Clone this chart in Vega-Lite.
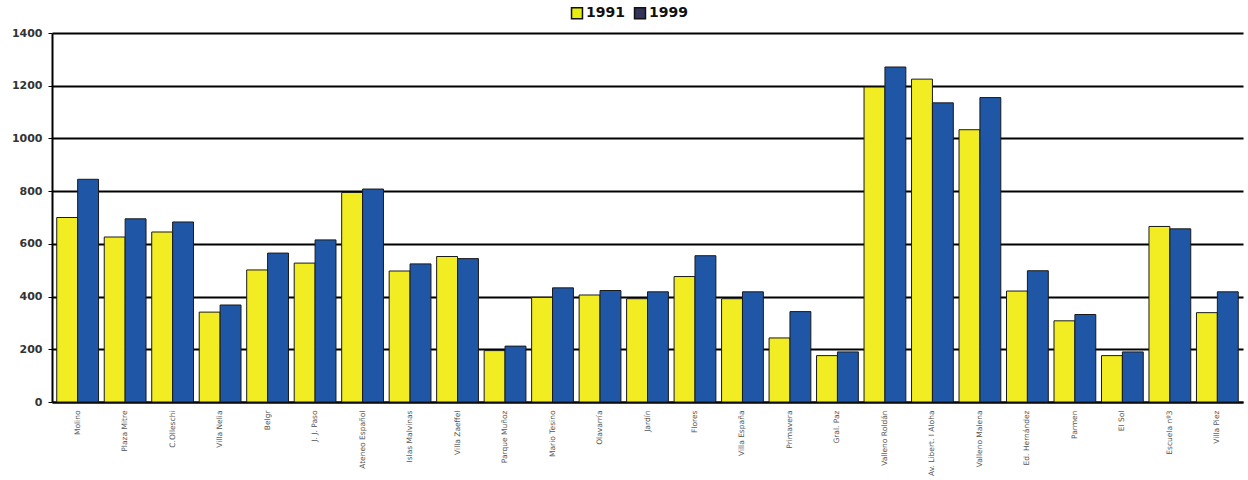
{
  "$schema": "https://vega.github.io/schema/vega-lite/v6.json",
  "width": 1191,
  "height": 369,
  "autosize": {"type": "none"},
  "padding": {"left": 52, "top": 33, "right": 5, "bottom": 78},
  "background": "white",
  "config": {
    "view": {"stroke": null},
    "font": "DejaVu Sans"
  },
  "data": {
    "values": [
      {"barrio": "Molino", "year": "1991", "value": 700},
      {"barrio": "Molino", "year": "1999", "value": 845},
      {"barrio": "Plaza Mitre", "year": "1991", "value": 626},
      {"barrio": "Plaza Mitre", "year": "1999", "value": 695},
      {"barrio": "C.Olleschi", "year": "1991", "value": 645},
      {"barrio": "C.Olleschi", "year": "1999", "value": 683},
      {"barrio": "Villa Nelia", "year": "1991", "value": 341},
      {"barrio": "Villa Nelia", "year": "1999", "value": 368},
      {"barrio": "Belgr", "year": "1991", "value": 501},
      {"barrio": "Belgr", "year": "1999", "value": 565},
      {"barrio": "J. J. Paso", "year": "1991", "value": 527},
      {"barrio": "J. J. Paso", "year": "1999", "value": 615},
      {"barrio": "Ateneo Español", "year": "1991", "value": 795},
      {"barrio": "Ateneo Español", "year": "1999", "value": 808},
      {"barrio": "Islas Malvinas", "year": "1991", "value": 497},
      {"barrio": "Islas Malvinas", "year": "1999", "value": 524},
      {"barrio": "Villa Zaeffel", "year": "1991", "value": 552},
      {"barrio": "Villa Zaeffel", "year": "1999", "value": 544},
      {"barrio": "Parque Muñoz", "year": "1991", "value": 195},
      {"barrio": "Parque Muñoz", "year": "1999", "value": 212},
      {"barrio": "Mario Tesino", "year": "1991", "value": 397},
      {"barrio": "Mario Tesino", "year": "1999", "value": 433},
      {"barrio": "Olavarría", "year": "1991", "value": 406},
      {"barrio": "Olavarría", "year": "1999", "value": 423},
      {"barrio": "Jardín", "year": "1991", "value": 392},
      {"barrio": "Jardín", "year": "1999", "value": 418},
      {"barrio": "Flores", "year": "1991", "value": 476},
      {"barrio": "Flores", "year": "1999", "value": 555},
      {"barrio": "Villa España", "year": "1991", "value": 392},
      {"barrio": "Villa España", "year": "1999", "value": 418},
      {"barrio": "Primavera", "year": "1991", "value": 243},
      {"barrio": "Primavera", "year": "1999", "value": 343},
      {"barrio": "Gral. Paz", "year": "1991", "value": 176},
      {"barrio": "Gral. Paz", "year": "1999", "value": 190},
      {"barrio": "Valleno Roldán", "year": "1991", "value": 1195},
      {"barrio": "Valleno Roldán", "year": "1999", "value": 1271},
      {"barrio": "Av. Libert. I Aloha", "year": "1991", "value": 1225},
      {"barrio": "Av. Libert. I Aloha", "year": "1999", "value": 1135},
      {"barrio": "Valleno Malena", "year": "1991", "value": 1033},
      {"barrio": "Valleno Malena", "year": "1999", "value": 1155},
      {"barrio": "Ed. Hernández", "year": "1991", "value": 421},
      {"barrio": "Ed. Hernández", "year": "1999", "value": 498},
      {"barrio": "Parmen", "year": "1991", "value": 308},
      {"barrio": "Parmen", "year": "1999", "value": 332},
      {"barrio": "El Sol", "year": "1991", "value": 176},
      {"barrio": "El Sol", "year": "1999", "value": 190},
      {"barrio": "Escuela nº3", "year": "1991", "value": 666},
      {"barrio": "Escuela nº3", "year": "1999", "value": 657},
      {"barrio": "Villa Piez", "year": "1991", "value": 339},
      {"barrio": "Villa Piez", "year": "1999", "value": 418}
    ]
  },
  "encoding": {
    "x": {
      "field": "barrio",
      "type": "nominal",
      "sort": null,
      "scale": {"paddingInner": 0.12, "paddingOuter": 0.1},
      "axis": {
        "title": null,
        "labelAngle": 270,
        "labelFontSize": 7.5,
        "labelColor": "#555555",
        "labelPadding": 8,
        "labelLimit": 70,
        "domainColor": "#000000",
        "domainWidth": 2,
        "ticks": false
      }
    },
    "xOffset": {"field": "year", "type": "nominal"},
    "y": {
      "field": "value",
      "type": "quantitative",
      "scale": {"domain": [0, 1400]},
      "axis": {
        "title": null,
        "values": [0, 200, 400, 600, 800, 1000, 1200, 1400],
        "format": "d",
        "labelFontSize": 11,
        "labelFontWeight": "bold",
        "labelColor": "#333333",
        "labelPadding": 6,
        "domainColor": "#000000",
        "domainWidth": 2,
        "tickColor": "#000000",
        "tickSize": 4,
        "grid": true,
        "gridColor": "#000000",
        "gridWidth": 2
      }
    }
  },
  "layer": [
    {
      "mark": {"type": "bar", "stroke": "#1a1a1a", "strokeWidth": 1},
      "encoding": {
        "fill": {
          "condition": {"test": "datum.year === '1999'", "value": "#1f56a5"},
          "value": "#f2ec22"
        }
      }
    },
    {
      "mark": {"type": "bar", "opacity": 0},
      "encoding": {
        "color": {
          "field": "year",
          "type": "nominal",
          "scale": {"domain": ["1991", "1999"], "range": ["#e6ee10", "#33335c"]},
          "legend": {
            "title": null,
            "orient": "none",
            "direction": "horizontal",
            "legendX": 518,
            "legendY": -27,
            "symbolType": "square",
            "symbolSize": 120,
            "symbolOpacity": 1,
            "symbolStrokeColor": "#111111",
            "symbolStrokeWidth": 1.5,
            "labelFontSize": 14,
            "labelFontWeight": "bold",
            "labelColor": "#111111",
            "labelOffset": 2,
            "columnPadding": 6
          }
        }
      }
    }
  ]
}
